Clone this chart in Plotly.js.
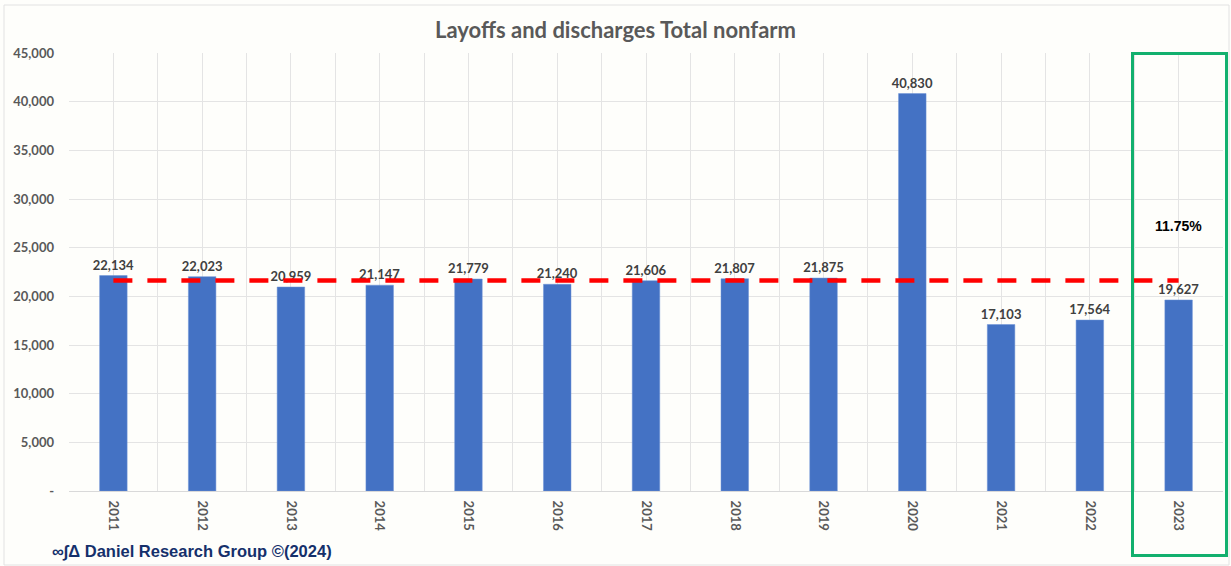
<!DOCTYPE html>
<html>
<head>
<meta charset="utf-8">
<script src="https://cdn.plot.ly/plotly-3.0.1.min.js"></script>
<style>html,body{margin:0;padding:0;background:#fefefb;}#chart{width:1231px;height:566px;}</style>
</head>
<body>
<div id="chart"></div>
<script>
const years = [2011, 2012, 2013, 2014, 2015, 2016, 2017, 2018, 2019, 2020, 2021, 2022, 2023];
const layoffs = [22134, 22023, 20959, 21147, 21779, 21240, 21606, 21807, 21875, 40830, 17103, 17564, 19627];
const avgLine = [21619, 21619, 21619, 21619, 21619, 21619, 21619, 21619, 21619, 21619, 21619, 21619, 21619];
const yTickVals = [0, 5000, 10000, 15000, 20000, 25000, 30000, 35000, 40000, 45000];
const yTickText = ['-', '5,000', '10,000', '15,000', '20,000', '25,000', '30,000', '35,000', '40,000', '45,000'];
const changeLabel = '11.75%';
const titleText = 'Layoffs and discharges Total nonfarm';
const sourceText = '∞∫Δ Daniel Research Group ©(2024)';

const W = 1231, H = 566;
const L = 69, R = 1223, T = 53, B = 491;
const px = v => (v - L) / (R - L);
const py = v => (B - v) / (B - T);

const bars = {
  type: 'bar', x: years, y: layoffs,
  marker: {color: '#4472C4', line: {color: '#6d92d6', width: 0.5}},
  text: layoffs.map(v => v.toLocaleString('en-US')),
  textposition: 'outside', cliponaxis: false, constraintext: 'none',
  textfont: {family: 'Lato, "Open Sans", sans-serif', size: 13, color: '#404040', weight: 700},
  hoverinfo: 'x+y'
};
const line = {
  type: 'scatter', mode: 'lines', x: years, y: avgLine,
  line: {color: '#FF0000', width: 4.5, dash: '19px,15px'},
  hoverinfo: 'skip'
};

const layout = {
  width: W, height: H,
  margin: {l: L, r: W - R, t: T, b: H - B},
  paper_bgcolor: '#fefefb', plot_bgcolor: '#fefefb',
  showlegend: false,
  bargap: 0.69,
  title: {
    text: titleText,
    font: {family: 'Lato, "Open Sans", sans-serif', size: 22, color: '#595959', weight: 700},
    x: 0.5, xref: 'container', xanchor: 'center',
    y: 1 - 30 / H, yref: 'container', yanchor: 'middle'
  },
  xaxis: {
    type: 'linear', range: [years[0] - 0.5, years[years.length - 1] + 0.5],
    tickvals: years, ticktext: years.map(String), tickangle: 90,
    tickfont: {family: 'Lato, "Open Sans", sans-serif', size: 13, color: '#595959', weight: 700},
    showgrid: true, gridcolor: '#e4e4e4', gridwidth: 1,
    minor: {tick0: years[0] - 0.5, dtick: 1, showgrid: true, gridcolor: '#e4e4e4', gridwidth: 1},
    showline: true, linecolor: '#d9d9d9', linewidth: 1,
    zeroline: false, ticks: '', ticklabelstandoff: 6
  },
  yaxis: {
    range: [0, 45000], tickvals: yTickVals, ticktext: yTickText,
    tickfont: {family: 'Lato, "Open Sans", sans-serif', size: 13, color: '#595959', weight: 700},
    showgrid: true, gridcolor: '#e4e4e4', gridwidth: 1,
    zeroline: false, ticks: '', ticklabelstandoff: 14, showline: false
  },
  shapes: [
    {type: 'rect', xref: 'paper', yref: 'paper', x0: px(4), x1: px(1229), y0: py(565), y1: py(5),
     line: {color: '#e2e2e2', width: 1}, fillcolor: 'rgba(0,0,0,0)', layer: 'below'},
    {type: 'rect', xref: 'paper', yref: 'paper', x0: px(1132.5), x1: px(1226.5), y0: py(555.5), y1: py(53.5),
     line: {color: '#12B06E', width: 3}, fillcolor: 'rgba(0,0,0,0)'}
  ],
  annotations: [
    {x: years[years.length - 1], xref: 'x', y: 27200, yref: 'y', text: changeLabel, showarrow: false,
     font: {family: '"Liberation Sans", Arial, sans-serif', size: 14, color: '#000000', weight: 700}},
    {x: px(50), xref: 'paper', xanchor: 'left', y: py(551), yref: 'paper', yanchor: 'middle',
     text: sourceText, showarrow: false,
     font: {family: '"Liberation Sans", Arial, sans-serif', size: 16.5, color: '#15306b', weight: 700}}
  ]
};

Plotly.newPlot('chart', [bars, line], layout, {displayModeBar: false, staticPlot: true});
</script>
</body>
</html>
